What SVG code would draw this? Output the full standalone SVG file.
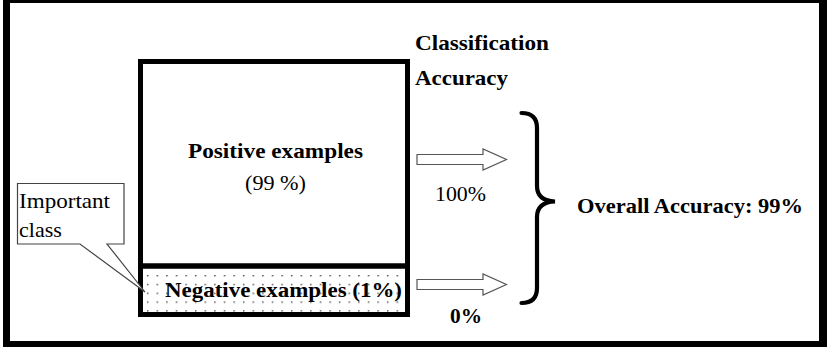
<svg xmlns="http://www.w3.org/2000/svg" width="827" height="349" viewBox="0 0 827 349">
<style>
text{font-family:"Liberation Serif","Times New Roman",serif;fill:#000}
.b{font-weight:bold}
.box{fill:none;stroke:#000;stroke-width:5}
.arr{fill:#fff;stroke:#555;stroke-width:1.2}
</style>
<defs>
<pattern id="dots" x="1" y="275" width="9.6" height="8.8" patternUnits="userSpaceOnUse">
<rect x="2" y="0" width="1.4" height="1.4" fill="#444"/>
</pattern>
</defs>
<g id="frame">
<rect x="3" y="0" width="824" height="347" fill="#000"/>
<rect x="10" y="3" width="809" height="338" fill="#fff"/>
</g>
<g id="negative">
<rect x="143" y="269" width="262" height="43" fill="url(#dots)"/>
<text class="b" x="165" y="297" font-family="Liberation Serif, serif" font-size="22" textLength="237" lengthAdjust="spacingAndGlyphs">Negative examples (1%)</text>
</g>
<g id="positive">
<rect class="box" x="140.5" y="61.5" width="267" height="253"/>
<line x1="140" y1="266" x2="408" y2="266" stroke="#000" stroke-width="5.5"/>
<text class="b" x="188" y="158" font-family="Liberation Serif, serif" font-size="22" textLength="175" lengthAdjust="spacingAndGlyphs">Positive examples</text>
<text x="245" y="190" font-family="Liberation Serif, serif" font-size="21" textLength="61" lengthAdjust="spacingAndGlyphs">(99 %)</text>
</g>
<g id="callout">
<path d="M17.5,183.5 H124 V244 H107 L145,292 L80,244 H17.5 Z" fill="#fff" stroke="#444" stroke-width="1.2"/>
<text x="19" y="208" font-family="Liberation Serif, serif" font-size="22" textLength="91" lengthAdjust="spacingAndGlyphs">Important</text>
<text x="19" y="237" font-family="Liberation Serif, serif" font-size="22">class</text>
</g>
<g id="classification">
<text class="b" x="415" y="50" font-family="Liberation Serif, serif" font-size="21" textLength="134" lengthAdjust="spacingAndGlyphs">Classification</text>
<text class="b" x="415" y="85" font-family="Liberation Serif, serif" font-size="21" textLength="93" lengthAdjust="spacingAndGlyphs">Accuracy</text>
</g>
<g id="connectors">
<path class="arr" d="M417,154.5 H483 V149 L506.5,159.5 L483,170 V164.5 H417 Z"/>
<path class="arr" d="M417,279.5 H483 V274 L506.5,284.5 L483,295 V289.5 H417 Z"/>
<text x="435" y="201" font-family="Liberation Serif, serif" font-size="21" textLength="51" lengthAdjust="spacingAndGlyphs">100%</text>
<text class="b" x="450" y="323" font-family="Liberation Serif, serif" font-size="21" textLength="32" lengthAdjust="spacingAndGlyphs">0%</text>
</g>
<g id="brace">
<path d="M521.5,113 C532,113 537,118 537,128 V186 C537,196 543,201 555,201.5 C543,202 537,207 537,217 V288 C537,298 532,303 521.5,303" fill="none" stroke="#000" stroke-width="4.2" stroke-linecap="round"/>
</g>
<g id="overall">
<text class="b" x="577" y="213" font-family="Liberation Serif, serif" font-size="22" textLength="226" lengthAdjust="spacingAndGlyphs">Overall Accuracy: 99%</text>
</g>
</svg>
